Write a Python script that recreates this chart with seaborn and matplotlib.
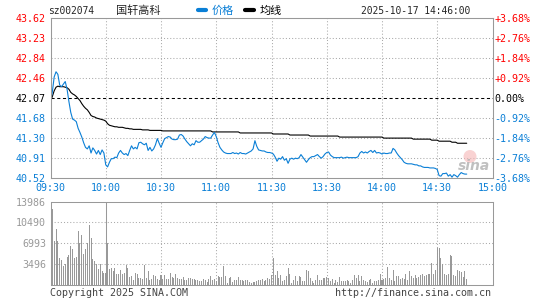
import numpy as np
import pandas as pd
import matplotlib
matplotlib.use("Agg")
import matplotlib.pyplot as plt
from matplotlib.patches import Ellipse
import seaborn as sns

# -----------------------------
# Data (one value per minute from 09:30)
# -----------------------------
code = "sz002074"
name = "国轩高科"
stamp = "2025-10-17 14:46:00"

price = [
    42.00, 42.19, 42.48, 42.58, 42.53, 42.32, 42.29, 42.34, 42.39, 42.24,
    42.00, 41.79, 41.66, 41.64, 41.61, 41.48, 41.40, 41.31, 41.20, 41.11,
    41.08, 41.14, 41.00, 41.10, 41.05, 40.98, 41.05, 40.97, 41.06, 41.00,
    40.77, 40.73, 40.82, 40.89, 40.89, 40.92, 40.91, 41.00, 41.05, 41.00,
    40.97, 40.99, 40.95, 41.05, 41.14, 41.08, 41.11, 41.08, 41.20, 41.21,
    41.18, 41.16, 41.19, 41.05, 41.11, 41.04, 41.08, 41.16, 41.28, 41.19,
    41.11, 41.20, 41.28, 41.30, 41.32, 41.31, 41.27, 41.26, 41.26, 41.27,
    41.35, 41.36, 41.33, 41.27, 41.22, 41.18, 41.14, 41.18, 41.16, 41.24,
    41.21, 41.21, 41.24, 41.27, 41.32, 41.30, 41.29, 41.29, 41.35, 41.40,
    41.32, 41.20, 41.11, 41.06, 41.02, 41.00, 40.99, 40.99, 40.99, 41.01,
    40.99, 41.00, 40.98, 41.01, 40.99, 40.99, 40.98, 41.00, 41.02, 41.04,
    41.08, 41.24, 41.13, 41.06, 41.05, 41.04, 41.04, 41.02, 41.01, 41.01,
    41.00, 40.98, 40.92, 40.84, 40.90, 40.88, 40.93, 40.86, 40.89, 40.80,
    40.88, 40.90, 40.88, 40.90, 40.89, 40.91, 40.97, 40.92, 40.87, 40.82,
    40.87, 40.91, 40.93, 40.93, 40.95, 40.97, 40.93, 40.90, 40.93, 40.98,
    41.01, 41.02, 40.96, 40.93, 40.91, 40.91, 40.91, 40.91, 40.92, 40.90,
    40.91, 40.92, 40.91, 40.91, 40.91, 40.91, 40.91, 40.93, 41.00, 41.03,
    41.00, 41.02, 41.00, 41.03, 41.05, 41.01, 41.05, 41.00, 41.01, 41.00,
    40.98, 41.00, 40.99, 40.99, 41.00, 41.00, 41.09, 41.06, 41.00, 40.95,
    40.91, 40.87, 40.82, 40.80, 40.79, 40.79, 40.79, 40.78, 40.77, 40.77,
    40.75, 40.75, 40.73, 40.72, 40.72, 40.72, 40.71, 40.71, 40.71, 40.70,
    40.68, 40.56, 40.55, 40.60, 40.60, 40.61, 40.55, 40.58, 40.53, 40.58,
    40.56, 40.53, 40.58, 40.62, 40.60, 40.59, 40.59,
]

avg_price = [
    42.00, 42.10, 42.21, 42.28, 42.30, 42.29, 42.29, 42.29, 42.28, 42.27,
    42.24, 42.18, 42.15, 42.13, 42.10, 42.06, 42.02, 41.96, 41.91, 41.87,
    41.84, 41.79, 41.73, 41.71, 41.70, 41.68, 41.67, 41.66, 41.65, 41.64,
    41.62, 41.57, 41.54, 41.53, 41.52, 41.51, 41.51, 41.50, 41.50, 41.50,
    41.49, 41.48, 41.48, 41.47, 41.47, 41.46, 41.46, 41.46, 41.46, 41.46,
    41.45, 41.45, 41.45, 41.45, 41.44, 41.44, 41.44, 41.44, 41.44, 41.44,
    41.44, 41.43, 41.43, 41.43, 41.43, 41.43, 41.43, 41.43, 41.43, 41.43,
    41.43, 41.43, 41.43, 41.43, 41.43, 41.43, 41.43, 41.43, 41.43, 41.43,
    41.43, 41.43, 41.43, 41.43, 41.43, 41.43, 41.43, 41.43, 41.41, 41.41,
    41.41, 41.41, 41.41, 41.41, 41.41, 41.41, 41.41, 41.41, 41.41, 41.41,
    41.41, 41.41, 41.41, 41.39, 41.39, 41.39, 41.39, 41.39, 41.39, 41.39,
    41.39, 41.39, 41.39, 41.39, 41.39, 41.39, 41.39, 41.39, 41.39, 41.39,
    41.39, 41.37, 41.37, 41.37, 41.37, 41.37, 41.37, 41.37, 41.37, 41.37,
    41.35, 41.35, 41.35, 41.35, 41.35, 41.35, 41.35, 41.35, 41.35, 41.35,
    41.35, 41.33, 41.33, 41.33, 41.33, 41.33, 41.33, 41.33, 41.33, 41.33,
    41.33, 41.33, 41.33, 41.33, 41.33, 41.33, 41.33, 41.31, 41.31, 41.31,
    41.31, 41.31, 41.31, 41.31, 41.31, 41.31, 41.31, 41.31, 41.31, 41.31,
    41.31, 41.31, 41.31, 41.31, 41.31, 41.31, 41.31, 41.31, 41.31, 41.31,
    41.31, 41.29, 41.29, 41.29, 41.29, 41.29, 41.29, 41.29, 41.29, 41.29,
    41.29, 41.29, 41.29, 41.29, 41.29, 41.29, 41.29, 41.27, 41.27, 41.27,
    41.27, 41.27, 41.27, 41.27, 41.27, 41.27, 41.27, 41.25, 41.25, 41.25,
    41.25, 41.23, 41.23, 41.23, 41.23, 41.23, 41.23, 41.23, 41.21, 41.21,
    41.21, 41.19, 41.19, 41.19, 41.19, 41.19, 41.19,
]

volume = [
    2120, 12730, 7370, 9380, 7370, 4470, 4190, 3180, 3460, 4690,
    5025, 6530, 6030, 4580, 4690, 9045, 6980, 8375, 5190, 6030,
    6980, 10050, 7930, 4360, 4020, 3460, 2680, 3460, 2345, 2065,
    2120, 6980, 2680, 2900, 2345, 2900, 1900, 1790, 2510, 1955,
    2065, 3350, 2900, 1400, 1565, 840, 2120, 1955, 1230, 1120,
    1005, 3350, 1230, 2345, 840, 1005, 1675, 1565, 1005, 840,
    1675, 1005, 1675, 1005, 1005, 2120, 1400, 1230, 1790, 1120,
    1005, 1005, 1400, 840, 840, 1230, 1120, 1005, 1005, 840,
    840, 670, 670, 1005, 840, 560, 1005, 1510, 840, 1005,
    670, 1510, 1400, 1400, 3240, 1510, 450, 1120, 1400, 560,
    840, 840, 1400, 840, 840, 670, 840, 840, 560, 450,
    560, 560, 670, 840, 840, 1005, 670, 840, 1230, 1005,
    1675, 4580, 1675, 2345, 1230, 1675, 670, 840, 1565, 2900,
    1790, 450, 840, 1565, 670, 1510, 1340, 670, 780, 2510,
    2345, 1120, 670, 450, 840, 1675, 840, 840, 1230, 1120,
    1400, 1230, 670, 1005, 450, 840, 560, 1400, 670, 670,
    670, 840, 670, 450, 840, 1675, 1120, 1675, 670, 1565,
    840, 670, 560, 840, 1005, 450, 670, 670, 840, 1845,
    840, 1005, 1120, 2960, 1230, 840, 2510, 670, 1510, 1510,
    1005, 1120, 1005, 1955, 840, 2345, 1565, 1120, 1675, 1230,
    1400, 1675, 1955, 1565, 1675, 1790, 1955, 3630, 1790, 2510,
    6140, 6250, 4470, 3460, 1955, 1675, 1955, 5025, 4860, 1675,
    1510, 2510, 2345, 2230, 1400, 2345, 1005,
]

price_ticks = [40.52, 40.91, 41.30, 41.68, 42.07, 42.46, 42.84, 43.23, 43.62]
price_labels = ["40.52", "40.91", "41.30", "41.68", "42.07", "42.46", "42.84", "43.23", "43.62"]
pct_labels = ["-3.68%", "-2.76%", "-1.84%", "-0.92%", "0.00%", "+0.92%", "+1.84%", "+2.76%", "+3.68%"]
vol_ticks = [3496, 6993, 10490, 13986]
vol_labels = ["3496", "6993", "10490", "13986"]
time_ticks = [0, 30, 60, 90, 120, 150, 180, 210, 240]
time_labels = ["09:30", "10:00", "10:30", "11:00", "11:30", "13:30", "14:00", "14:30", "15:00"]
prev_close = 42.07

df = pd.DataFrame({"minute": np.arange(len(price)), "price": price,
                   "avg": avg_price, "volume": volume})

# -----------------------------
# Style
# -----------------------------
sns.set_style("white")
MONO = ["DejaVu Sans Mono", "Noto Sans CJK SC"]
CJK = ["Noto Sans CJK SC", "DejaVu Sans"]
plt.rcParams["font.family"] = MONO
BLUE = "#0a7fd6"
RED = "#ff0000"
GRAY = "#999999"
GRID = "#aaaaaa"
FS = 7.2

W, H = 545, 300


def box(l, t, r, b):
    return [l / W, 1 - b / H, (r - l) / W, (b - t) / H]


fig = plt.figure(figsize=(W / 100, H / 100), dpi=100)
ax = fig.add_axes(box(50.5, 18.3, 492.5, 177.7))
axv = fig.add_axes(box(50.5, 201.5, 492.5, 285.2))

# -----------------------------
# Price panel
# -----------------------------
for t in time_ticks[1:-1]:
    ax.axvline(t, color=GRID, lw=0.75, ls=(0, (1, 2)), zorder=0)
for p in price_ticks[1:-1]:
    if p != prev_close:
        ax.axhline(p, color=GRID, lw=0.75, ls=(0, (1, 2)), zorder=0)
ax.axhline(prev_close, color="black", lw=0.75, ls=(0, (3, 2.5)), zorder=1)

sns.lineplot(data=df, x="minute", y="avg", ax=ax, color="black", lw=0.8,
             estimator=None, label="均线", zorder=2)
sns.lineplot(data=df, x="minute", y="price", ax=ax, color=BLUE, lw=0.8,
             estimator=None, label="价格", zorder=3)

ax.set_xlim(0, 240)
ax.set_ylim(price_ticks[0], price_ticks[-1])
ax.set_xlabel("")
ax.set_ylabel("")
ax.set_xticks(time_ticks)
ax.set_xticklabels(time_labels, color=BLUE, fontsize=FS)
ax.set_yticks(price_ticks)
ax.set_yticklabels(price_labels, fontsize=FS)
ax.tick_params(axis="y", length=0, pad=3.2)
ax.tick_params(axis="x", length=0, pad=3.5)
for lab, p in zip(ax.get_yticklabels(), price_ticks):
    lab.set_color(RED if p > prev_close else ("black" if p == prev_close else BLUE))

axr = ax.twinx()
axr.set_ylim(ax.get_ylim())
axr.set_yticks(price_ticks)
axr.set_yticklabels(pct_labels, fontsize=FS)
axr.tick_params(axis="y", length=0, pad=1.3)
for lab, p in zip(axr.get_yticklabels(), price_ticks):
    lab.set_color(RED if p > prev_close else ("black" if p == prev_close else BLUE))

for a in (ax, axr, axv):
    for s in a.spines.values():
        s.set_color(GRAY)
        s.set_linewidth(0.75)

# legend in the header row
h, l = ax.get_legend_handles_labels()
leg = ax.legend(h[::-1], l[::-1], loc="center left", ncol=2, frameon=False,
                bbox_to_anchor=(192 / W, 1 - 10.5 / H), bbox_transform=fig.transFigure,
                borderpad=0, handlelength=0.8, handletextpad=0.5, columnspacing=1.0,
                prop={"family": CJK, "size": 8})
for line in leg.get_lines():
    line.set_linewidth(3)
leg.get_texts()[0].set_color(BLUE)
leg.get_texts()[1].set_color("black")

# -----------------------------
# Volume panel
# -----------------------------
for t in time_ticks[1:-1]:
    if t == 30:
        axv.axvline(t, color=GRAY, lw=0.75, zorder=0)
    else:
        axv.axvline(t, color=GRID, lw=0.75, ls=(0, (1, 2)), zorder=0)
for v in vol_ticks[:-1]:
    axv.axhline(v, color=GRID, lw=0.75, ls=(0, (1, 2)), zorder=0)

sns.barplot(data=df, x="minute", y="volume", ax=axv, native_scale=True,
            color=GRAY, saturation=1, width=0.55, errorbar=None,
            linewidth=0, zorder=2)

axv.set_xlim(0, 240)
axv.set_ylim(0, vol_ticks[-1])
axv.set_xlabel("")
axv.set_ylabel("")
axv.set_xticks(time_ticks)
axv.set_xticklabels([])
axv.set_yticks(vol_ticks)
axv.set_yticklabels(vol_labels, color=GRAY, fontsize=FS)
axv.tick_params(length=0)
axv.tick_params(axis="y", pad=3.2)

# -----------------------------
# Header / footer texts
# -----------------------------
ty = 1 - 11 / H
fig.text(48 / W, ty, code, fontsize=6.9, va="center", ha="left", family=MONO)
fig.text(116 / W, ty, name, fontsize=8, va="center", ha="left", family=CJK)
fig.text(470 / W, ty, stamp, fontsize=6.9, va="center", ha="right", family=MONO)

fy = 1 - 293 / H
fig.text(50 / W, fy, "Copyright 2025 SINA.COM", fontsize=FS, va="center",
         ha="left", color="#444444", family=MONO)
fig.text(491.5 / W, fy, "http://finance.sina.com.cn", fontsize=FS, va="center",
         ha="right", color="#444444", family=MONO)

# sina watermark
fig.add_artist(Ellipse((470 / W, 1 - 156.5 / H), 13 / W, 13 / H,
                       transform=fig.transFigure, facecolor="#f5b5b5",
                       edgecolor="none", alpha=0.6, zorder=5))
fig.text(474 / W, 1 - 165.5 / H, "sina", fontsize=10, weight="bold", style="italic",
         color="#b5b5b5", alpha=0.85, ha="center", va="center",
         family="DejaVu Sans", zorder=6)

fig.savefig("out.png", dpi=100)
